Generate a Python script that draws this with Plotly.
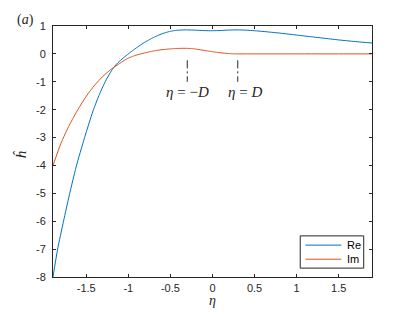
import plotly.graph_objects as go

# ---- data ----
series_names = ["Re", "Im"]

eta_re = [-1.895, -1.84, -1.77, -1.70, -1.62, -1.52, -1.42, -1.35, -1.275, -1.20,
          -1.15, -1.10, -1.05, -1.00, -0.95, -0.90, -0.85, -0.80, -0.75, -0.70,
          -0.65, -0.60, -0.55, -0.50, -0.45, -0.40, -0.35, -0.30, -0.20, -0.10,
          0.00, 0.10, 0.20, 0.30, 0.40, 0.50, 0.60, 0.70, 0.80, 0.90,
          1.00, 1.10, 1.20, 1.30, 1.40, 1.50, 1.60, 1.70, 1.80, 1.895]
re_vals = [-8.0, -7.0, -6.0, -5.05, -4.05, -3.0, -2.05, -1.5, -1.0, -0.6,
           -0.4, -0.25, -0.12, 0.0, 0.115, 0.225, 0.33, 0.425, 0.51, 0.59,
           0.66, 0.72, 0.77, 0.81, 0.835, 0.85, 0.858, 0.86, 0.85, 0.835,
           0.83, 0.84, 0.855, 0.86, 0.85, 0.83, 0.805, 0.775, 0.745, 0.71,
           0.675, 0.64, 0.605, 0.57, 0.535, 0.50, 0.47, 0.44, 0.415, 0.39]

eta_im = [-1.895, -1.80, -1.70, -1.60, -1.50, -1.40, -1.30, -1.20, -1.116, -1.05,
          -1.00, -0.95, -0.90, -0.85, -0.80, -0.75, -0.70, -0.65, -0.60, -0.55,
          -0.50, -0.45, -0.40, -0.35, -0.30, -0.25, -0.20, -0.15, -0.10, -0.05,
          0.00, 0.05, 0.10, 0.15, 0.20, 0.25, 0.30, 0.40, 0.60, 1.00,
          1.50, 1.895]
im_vals = [-4.0, -3.2, -2.55, -2.0, -1.52, -1.12, -0.80, -0.54, -0.37, -0.235,
           -0.15, -0.09, -0.04, 0.0, 0.04, 0.075, 0.105, 0.13, 0.15, 0.165,
           0.18, 0.19, 0.197, 0.20, 0.198, 0.19, 0.173, 0.15, 0.125, 0.10,
           0.077, 0.056, 0.038, 0.022, 0.01, 0.003, 0.0, 0.0, 0.0, 0.0,
           0.0, 0.0]

marker_eta = [-0.3, 0.3]
marker_top = [-0.23, -0.23]
marker_bottom = [-1.0, -1.0]
marker_labels = ["<i>η</i> = −<i>D</i>", "<i>η</i> = <i>D</i>"]
marker_label_x = [-0.30, 0.39]
marker_label_y = [-1.35, -1.35]

xtick_vals = [-1.5, -1, -0.5, 0, 0.5, 1, 1.5]
xtick_text = ["-1.5", "-1", "-0.5", "0", "0.5", "1", "1.5"]
ytick_vals = [1, 0, -1, -2, -3, -4, -5, -6, -7, -8]
ytick_text = ["1", "0", "-1", "-2", "-3", "-4", "-5", "-6", "-7", "-8"]

x_range = [-1.895, 1.895]
y_range = [-8, 1]

AX = "#262626"
BLUE = "#0072BD"
RED = "#D95319"
colors = [BLUE, RED]
SANS = "Liberation Sans, Arial, sans-serif"
SERIF = "Liberation Serif, DejaVu Serif, serif"

fig = go.Figure()
for xs, ys, nm, col in zip([eta_re, eta_im], [re_vals, im_vals], series_names, colors):
    fig.add_trace(go.Scatter(x=xs, y=ys, mode="lines", name=nm, showlegend=False,
                             line=dict(color=col, width=1, shape="spline", smoothing=0.6)))

for xe, yt, yb in zip(marker_eta, marker_top, marker_bottom):
    fig.add_trace(go.Scatter(x=[xe, xe], y=[yt, yb], mode="lines", showlegend=False,
                             hoverinfo="skip",
                             line=dict(color=AX, width=1, dash="8px,3px,2px,3px")))

for txt, lx, ly in zip(marker_labels, marker_label_x, marker_label_y):
    fig.add_annotation(x=lx, y=ly, xref="x", yref="y", text=txt, showarrow=False,
                       xanchor="center", yanchor="middle",
                       font=dict(family=SERIF, size=15, color=AX))

# axis labels and panel tag
fig.add_annotation(x=-0.0994, y=0.489, xref="paper", yref="paper", text="<i>ĥ</i>",
                   showarrow=False, textangle=-90, xanchor="center", yanchor="middle",
                   font=dict(family=SERIF, size=15, color=AX))
fig.add_annotation(x=0.5, y=-0.095, xref="paper", yref="paper", text="<i>η</i>",
                   showarrow=False, xanchor="center", yanchor="middle",
                   font=dict(family=SERIF, size=14, color=AX))
fig.add_annotation(x=-0.0868, y=1.025, xref="paper", yref="paper", text="(<i>a</i>)",
                   showarrow=False, xanchor="center", yanchor="middle",
                   font=dict(family=SERIF, size=14, color=AX))

# legend box (MATLAB style, compact)
leg_x0, leg_x1, leg_y0, leg_y1 = 0.775, 0.974, 0.0354, 0.1638
fig.add_shape(type="rect", xref="paper", yref="paper", x0=leg_x0, x1=leg_x1,
              y0=leg_y0, y1=leg_y1, line=dict(color=AX, width=1), fillcolor="white",
              layer="above")
leg_rows = [0.127, 0.0709]
for nm, col, ry in zip(series_names, colors, leg_rows):
    fig.add_shape(type="line", xref="paper", yref="paper", x0=0.7915, x1=0.9037,
                  y0=ry, y1=ry, line=dict(color=col, width=1), layer="above")
    fig.add_annotation(x=0.9163, y=ry, xref="paper", yref="paper", text=nm,
                       showarrow=False, xanchor="left", yanchor="middle",
                       font=dict(family=SANS, size=11, color="#000000"))

axis_common = dict(showgrid=False, zeroline=False, showline=True, linecolor=AX,
                   linewidth=1, mirror="ticks", ticks="inside", ticklen=3,
                   tickcolor=AX, tickwidth=1,
                   tickfont=dict(family=SANS, size=11, color=AX))

fig.update_xaxes(range=x_range, tickvals=xtick_vals, ticktext=xtick_text,
                 ticklabelstandoff=1, **axis_common)
fig.update_yaxes(range=y_range, tickvals=ytick_vals, ticktext=ytick_text,
                 ticklabelstandoff=4, **axis_common)

# page body has an 8px margin, so the figure is sized/offset to compensate
fig.update_layout(
    width=403, height=308,
    margin=dict(l=45, r=39, t=15, b=39),
    plot_bgcolor="white", paper_bgcolor="white",
    showlegend=False,
)

fig.write_html("out.html")
